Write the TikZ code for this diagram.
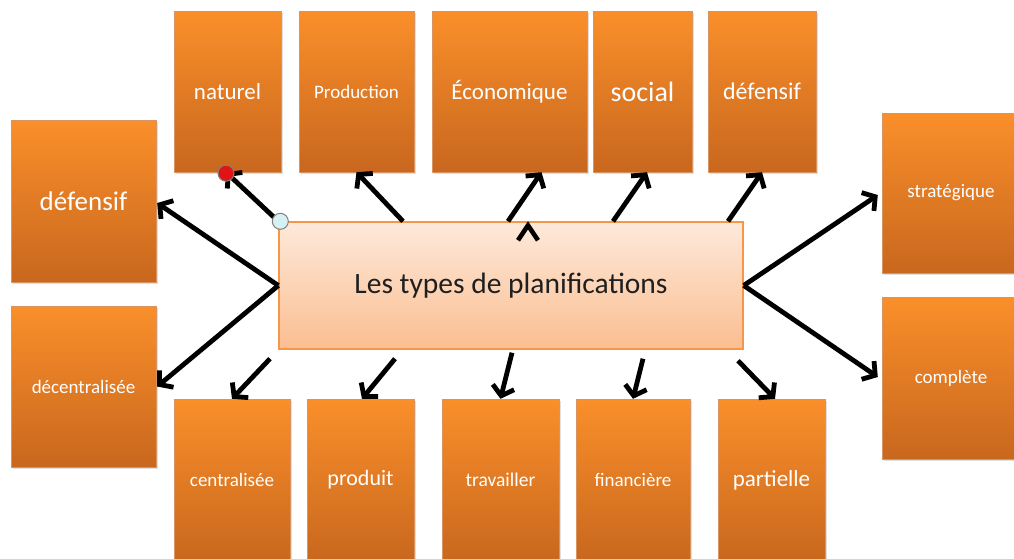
\documentclass[tikz,border=0pt]{standalone}
\usepackage{fontspec}
\setmainfont{Carlito}
\usetikzlibrary{arrows.meta,shadows,calc}
\definecolor{orA}{RGB}{250,143,42}
\definecolor{orB}{RGB}{238,133,38}
\definecolor{orC}{RGB}{200,103,30}
\definecolor{peachA}{RGB}{253,233,218}
\definecolor{peachB}{RGB}{251,190,145}
\definecolor{peachLine}{RGB}{247,150,70}
\definecolor{dotRed}{RGB}{225,20,20}
\definecolor{dotBlue}{RGB}{215,240,243}
\newcommand{\fs}[1]{\fontsize{#1}{#1}\selectfont}
\begin{document}
\begin{tikzpicture}[x=1pt,y=-1pt,
  box/.style={draw=orC!70, line width=0.4pt, top color=orA, middle color=orB, bottom color=orC,
     inner sep=0pt, text=white, drop shadow={opacity=0.25, shadow xshift=1.5pt, shadow yshift=-1.5pt}},
  hub/.style={draw=peachLine, line width=1.4pt, top color=peachA, bottom color=peachB,
     inner sep=0pt, text=black!88, minimum width=464pt, minimum height=127pt},
  arr/.style={line width=4.8pt, -{Straight Barb[length=9pt,width=22pt]}},
  dot/.style={circle, draw=gray, line width=1pt, inner sep=0pt, minimum size=16pt}]
\useasboundingbox (0,0) rectangle (1014,558);
\fill[white] (0,0) rectangle (1014,558);

% central node
\node[hub] (c) at (511,285.5) {\fs{29.5}Les types de planifications};

% top row
\node[box, minimum width=107pt, minimum height=161pt] (n1) at (227.5,91.5) {\fs{23}naturel};
\node[box, minimum width=115pt, minimum height=161pt] (n2) at (356.5,91.5) {\fs{19}Production};
\node[box, minimum width=155pt, minimum height=161pt] (n3) at (509.5,91.5) {\fs{23}Économique};
\node[box, minimum width=99pt,  minimum height=161pt] (n4) at (642.5,91.5) {\fs{28}social};
\node[box, minimum width=108pt, minimum height=161pt] (n5) at (762,91.5) {\fs{24}défensif};

% left
\node[box, minimum width=145pt, minimum height=162pt] (l1) at (83.5,201) {\fs{27}défensif};
\node[box, minimum width=145pt, minimum height=161pt] (l2) at (83.5,386.5) {\fs{19}décentralisée};

% right
\node[box, minimum width=138pt, minimum height=160pt] (r1) at (951,193) {\fs{19}stratégique};
\node[box, minimum width=138pt, minimum height=162pt] (r2) at (951,378) {\fs{19}complète};

% bottom row
\node[box, minimum width=116pt, minimum height=162pt] (b1) at (232,480) {\fs{19}centralisée};
\node[box, minimum width=107pt, minimum height=162pt] (b2) at (360.5,480) {\fs{22}produit};
\node[box, minimum width=117pt, minimum height=162pt] (b3) at (500.5,480) {\fs{19.5}travailler};
\node[box, minimum width=114pt, minimum height=162pt] (b4) at (633,480) {\fs{19}financière};
\node[box, minimum width=107pt, minimum height=162pt] (b5) at (771.5,480) {\fs{23}partielle};

% arrows to top row
\draw[arr] (c.north west) -- ([xshift=-1.5pt]n1.south);
\draw[arr] ([shift={(-108,0)}]c.north) -- (n2.south);
\draw[arr] ([shift={(-3,0)}]c.north) -- ([shift={(32,0)}]n3.south);
\draw[arr] ([shift={(102,0)}]c.north) -- ([shift={(4.5,0)}]n4.south);
\draw[arr] ([shift={(217,0)}]c.north) -- (n5.south);
% lone caret
\draw[line width=4.6pt, line join=miter] ([shift={(7,19)}]c.north) -- ([shift={(17,4)}]c.north) -- ([shift={(27,19)}]c.north);

% left and right
\draw[arr] (c.west) -- ([shift={(1,2)}]l1.east);
\draw[arr] (c.west) -- ([shift={(1,0)}]l2.east);
\draw[arr] (c.east) -- ([shift={(-4,2)}]r1.west);
\draw[arr] (c.east) -- ([shift={(-4,-1)}]r2.west);

% bottom row
\draw[arr] ([shift={(-241,9)}]c.south) -- (b1.north);
\draw[arr] ([shift={(-116,9)}]c.south) -- ([shift={(1.5,0)}]b2.north);
\draw[arr] ([shift={(1,3)}]c.south) -- (b3.north);
\draw[arr] ([shift={(132,9)}]c.south) -- (b4.north);
\draw[arr] ([shift={(227,11)}]c.south) -- ([shift={(3.5,0)}]b5.north);

% handle dots
\node[dot, fill=dotRed] (hr) at ([xshift=-1.5pt,yshift=-1pt]n1.south) {};
\node[dot, fill=dotBlue] (hb) at ([xshift=2pt]c.north west) {};
\end{tikzpicture}
\end{document}
